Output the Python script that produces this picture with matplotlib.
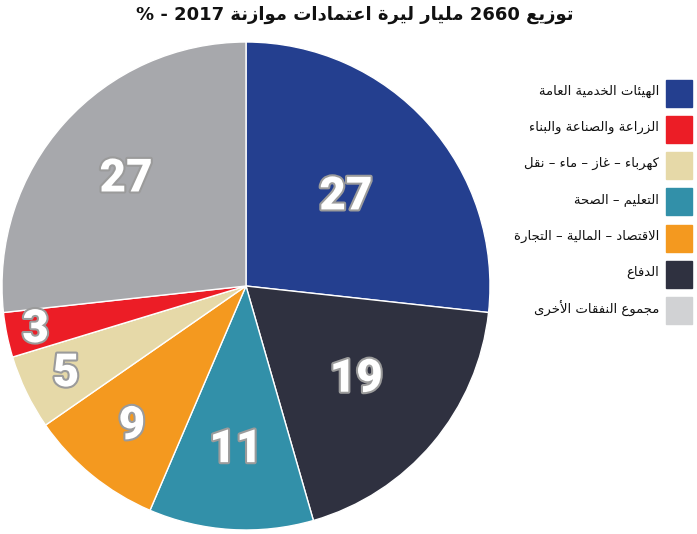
import matplotlib
matplotlib.use("Agg")
import matplotlib.pyplot as plt
import matplotlib.patheffects as pe
from matplotlib.patches import Rectangle
import numpy as np

title = "توزيع 2660 مليار ليرة اعتمادات موازنة 2017 - %"
labels = [
    "الهيئات الخدمية العامة",
    "الدفاع",
    "التعليم – الصحة",
    "الاقتصاد – المالية – التجارة",
    "كهرباء – غاز – ماء – نقل",
    "الزراعة والصناعة والبناء",
    "مجموع النفقات الأخرى",
]
values = [27, 19, 11, 9, 5, 3, 27]
colors = ["#243f8f", "#2f3140", "#3290a9", "#f4991f", "#e6d9a8", "#ec1d26", "#a7a8ac"]
legend_order = [0, 5, 4, 2, 3, 1, 6]   # order of rows in the legend box
legend_colors = colors[:6] + ["#d1d2d4"]

# matplotlib does no arabic shaping, so map letters to presentation forms
FORMS = {
    'ء': (0xFE80, 1), 'آ': (0xFE81, 2), 'أ': (0xFE83, 2), 'ؤ': (0xFE85, 2),
    'إ': (0xFE87, 2), 'ئ': (0xFE89, 4), 'ا': (0xFE8D, 2), 'ب': (0xFE8F, 4),
    'ة': (0xFE93, 2), 'ت': (0xFE95, 4), 'ث': (0xFE99, 4), 'ج': (0xFE9D, 4),
    'ح': (0xFEA1, 4), 'خ': (0xFEA5, 4), 'د': (0xFEA9, 2), 'ذ': (0xFEAB, 2),
    'ر': (0xFEAD, 2), 'ز': (0xFEAF, 2), 'س': (0xFEB1, 4), 'ش': (0xFEB5, 4),
    'ص': (0xFEB9, 4), 'ض': (0xFEBD, 4), 'ط': (0xFEC1, 4), 'ظ': (0xFEC5, 4),
    'ع': (0xFEC9, 4), 'غ': (0xFECD, 4), 'ف': (0xFED1, 4), 'ق': (0xFED5, 4),
    'ك': (0xFED9, 4), 'ل': (0xFEDD, 4), 'م': (0xFEE1, 4), 'ن': (0xFEE5, 4),
    'ه': (0xFEE9, 4), 'و': (0xFEED, 2), 'ى': (0xFEEF, 2), 'ي': (0xFEF1, 4),
}
LAM_ALEF = {'آ': 0xFEF5, 'أ': 0xFEF7, 'إ': 0xFEF9, 'ا': 0xFEFB}


def shape_word(w):
    units = []
    i = 0
    while i < len(w):
        if w[i] == 'ل' and i + 1 < len(w) and w[i + 1] in LAM_ALEF:
            units.append((LAM_ALEF[w[i + 1]], 2))
            i += 2
        elif w[i] in FORMS:
            units.append(FORMS[w[i]])
            i += 1
        else:
            units.append(w[i])
            i += 1
    out = []
    for k, u in enumerate(units):
        if isinstance(u, str):
            out.append(u)
            continue
        base, n = u
        prev = units[k - 1] if k > 0 else None
        nxt = units[k + 1] if k + 1 < len(units) else None
        jp = prev is not None and not isinstance(prev, str) and prev[1] == 4
        jn = n == 4 and nxt is not None and not isinstance(nxt, str)
        idx = (1 if jp else 0) + (2 if jn else 0)
        if n == 1:
            idx = 0
        out.append(chr(base + idx))
    return ''.join(out)


def rtl(s):
    toks = s.split(' ')
    res = []
    for t in reversed(toks):
        if any(c in FORMS for c in t):
            res.append(shape_word(t)[::-1])
        else:
            res.append(t)
    return ' '.join(res)


W, H = 697, 534
fig = plt.figure(figsize=(W / 100, H / 100), dpi=100)
ax = fig.add_axes([2 / W, 4 / H, 488 / W, 488 / H])

wedges, _ = ax.pie(values, colors=colors, startangle=90, counterclock=False,
                   radius=1, wedgeprops=dict(edgecolor="white", linewidth=1))
ax.set_xlim(-1, 1)
ax.set_ylim(-1, 1)
ax.set_aspect("equal")
ax.axis("off")

label_r = [0.55, 0.59, 0.67, 0.74, 0.82, 0.88, 0.66]
for w, v, r in zip(wedges, values, label_r):
    ang = np.deg2rad((w.theta1 + w.theta2) / 2)
    ax.text(r * np.cos(ang), r * np.sin(ang), str(v), ha="center", va="center",
            fontsize=33, fontweight="black", family="Roboto", color="white",
            path_effects=[pe.withStroke(linewidth=3, foreground="#9b9b9b")])

fig.text(355 / W, 1 - 15 / H, rtl(title), ha="center", va="center",
         fontsize=13, fontweight="bold", family="DejaVu Sans", color="#111111")

for row, i in enumerate(legend_order):
    yc = 93 + row * 36.3
    fig.patches.append(Rectangle((666 / W, 1 - (yc + 13.5) / H), 26 / W, 27 / H,
                                 transform=fig.transFigure, color=legend_colors[i]))
    fig.text(659 / W, 1 - (yc - 2) / H, rtl(labels[i]), ha="right", va="center",
             fontsize=9.5, family="DejaVu Sans", color="#111111")

fig.savefig("out.png", dpi=100)
